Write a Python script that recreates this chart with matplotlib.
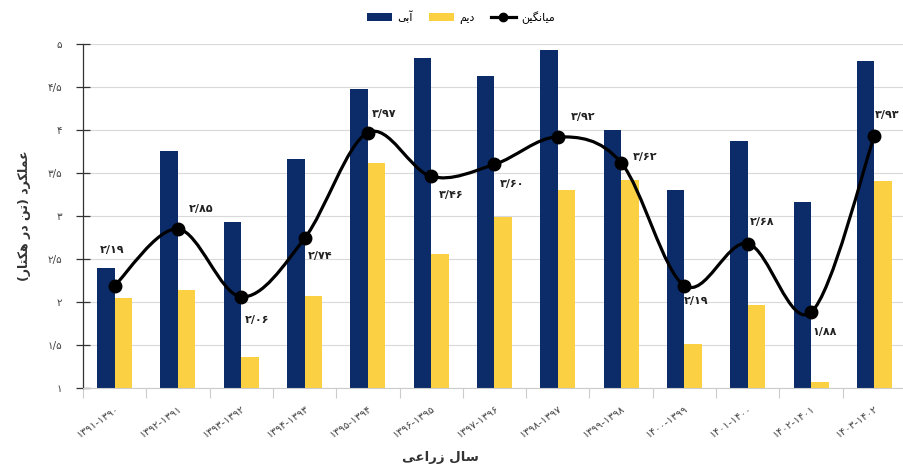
import matplotlib
matplotlib.use('Agg')
import matplotlib.pyplot as plt
import numpy as np
from matplotlib.path import Path
from matplotlib.patches import PathPatch, Patch
from matplotlib.lines import Line2D

# crop years (persian calendar) and yield in tonnes per hectare
years = ['۱۳۹۱-۱۳۹۰', '۱۳۹۲-۱۳۹۱', '۱۳۹۳-۱۳۹۲', '۱۳۹۴-۱۳۹۳', '۱۳۹۵-۱۳۹۴',
         '۱۳۹۶-۱۳۹۵', '۱۳۹۷-۱۳۹۶', '۱۳۹۸-۱۳۹۷', '۱۳۹۹-۱۳۹۸', '۱۴۰۰-۱۳۹۹',
         '۱۴۰۱-۱۴۰۰', '۱۴۰۲-۱۴۰۱', '۱۴۰۳-۱۴۰۲']
irrigated = [2.40, 3.76, 2.93, 3.66, 4.48, 4.84, 4.63, 4.93, 4.00, 3.30, 3.87, 3.16, 4.80]
rainfed = [2.05, 2.14, 1.36, 2.07, 3.62, 2.56, 2.99, 3.30, 3.42, 1.51, 1.96, 1.07, 3.41]
average = [2.19, 2.85, 2.06, 2.74, 3.97, 3.46, 3.60, 3.92, 3.62, 2.19, 2.68, 1.88, 3.93]

# where each average label sits relative to its point (pixels)
label_offsets = [(-3, 36), (23, 20), (16, -23), (16, -18), (16, 19), (20, -19), (18, -20),
                 (25, 20), (24, 6), (12, -15), (14, 22), (14, -20), (13, 21)]

BLUE = '#0c2c69'
YELLOW = '#fcd043'

# contextual forms for the letters used: isolated, final, initial, medial
FORMS = {
    'ا': ('\uFE8D', '\uFE8E', None, None),
    'آ': ('\uFE81', '\uFE82', None, None),
    'د': ('\uFEA9', '\uFEAA', None, None),
    'ر': ('\uFEAD', '\uFEAE', None, None),
    'ز': ('\uFEAF', '\uFEB0', None, None),
    'ب': ('\uFE8F', '\uFE90', '\uFE91', '\uFE92'),
    'ت': ('\uFE95', '\uFE96', '\uFE97', '\uFE98'),
    'ی': ('\uFBFC', '\uFBFD', '\uFBFE', '\uFBFF'),
    'م': ('\uFEE1', '\uFEE2', '\uFEE3', '\uFEE4'),
    'ن': ('\uFEE5', '\uFEE6', '\uFEE7', '\uFEE8'),
    'گ': ('\uFB92', '\uFB93', '\uFB94', '\uFB95'),
    'ع': ('\uFEC9', '\uFECA', '\uFECB', '\uFECC'),
    'ل': ('\uFEDD', '\uFEDE', '\uFEDF', '\uFEE0'),
    'ک': ('\uFB8E', '\uFB8F', '\uFB90', '\uFB91'),
    'ه': ('\uFEE9', '\uFEEA', '\uFEEB', '\uFEEC'),
    'س': ('\uFEB1', '\uFEB2', '\uFEB3', '\uFEB4'),
}


def fa(text):
    """Shape persian letters and lay them out right to left."""
    out = []
    for i, ch in enumerate(text):
        if ch not in FORMS:
            out.append(ch)
            continue
        iso, fin, ini, med = FORMS[ch]
        prev = text[i - 1] if i > 0 else ''
        nxt = text[i + 1] if i < len(text) - 1 else ''
        jp = prev in FORMS and FORMS[prev][2] is not None
        jn = ini is not None and nxt in FORMS
        if jp and jn:
            out.append(med)
        elif jp:
            out.append(fin)
        elif jn:
            out.append(ini)
        else:
            out.append(iso)
    vis = ''.join(reversed(out))
    return vis.translate(str.maketrans('()', ')('))


def fa_num(v, fmt):
    return format(v, fmt).translate(str.maketrans('0123456789.', '۰۱۲۳۴۵۶۷۸۹/'))


plt.rcParams['font.family'] = 'DejaVu Sans'

fig = plt.figure(figsize=(9.04, 4.73), dpi=100)
ax = fig.add_axes([83 / 904, 85 / 473, 823 / 904, 344 / 473])

x = np.arange(len(years))
w = 0.276
ax.bar(x - w / 2, irrigated, w, color=BLUE, zorder=2)
ax.bar(x + w / 2, rainfed, w, color=YELLOW, zorder=2)

# smoothed average line (catmull-rom through the points)
pts = np.column_stack([x, average]).astype(float)
ext = np.vstack([pts[0], pts, pts[-1]])
verts = [tuple(pts[0])]
codes = [Path.MOVETO]
for i in range(len(pts) - 1):
    p0, p1, p2, p3 = ext[i], ext[i + 1], ext[i + 2], ext[i + 3]
    c1 = p1 + (p2 - p0) / 6
    c2 = p2 - (p3 - p1) / 6
    verts += [tuple(c1), tuple(c2), tuple(p2)]
    codes += [Path.CURVE4] * 3
ax.add_patch(PathPatch(Path(verts, codes), facecolor='none', edgecolor='black',
                       lw=2.3, zorder=3, capstyle='round'))
ax.plot(x, average, 'o', color='black', markersize=9, zorder=4)

for xi, v, (dx, dy) in zip(x, average, label_offsets):
    ax.annotate(fa_num(v, '.2f'), (xi, v), xytext=(dx, dy), textcoords='offset pixels',
                ha='center', va='center', fontsize=8, fontweight='bold', color='#222222',
                zorder=5, annotation_clip=False)

ax.set_xlim(-0.5, len(years) - 0.5)
ax.set_ylim(1, 5)
yt = np.arange(1, 5.01, 0.5)
ax.set_yticks(yt)
ax.set_yticklabels([fa_num(v, 'g') for v in yt], fontsize=7.5, color='#444444')
ax.yaxis.grid(True, color='#d9d9d9', lw=0.8, zorder=0)
ax.tick_params(axis='y', direction='inout', length=10, width=0.9, color='#333333', pad=10)

ax.set_xticks(x)
ax.set_xticklabels(years, rotation=35, ha='right', rotation_mode='anchor',
                   fontsize=7.5, color='#444444')
ax.set_xticks(np.arange(-0.5, len(years), 1), minor=True)
ax.tick_params(axis='x', which='major', length=0, pad=11)
ax.tick_params(axis='x', which='minor', length=7, color='#cccccc', width=0.8)

for s in ['top', 'right']:
    ax.spines[s].set_visible(False)
ax.spines['left'].set_color('#333333')
ax.spines['left'].set_linewidth(0.9)
ax.spines['bottom'].set_color('#cccccc')
ax.spines['bottom'].set_linewidth(0.8)

ax.set_ylabel(fa('عملکرد (تن در هکتار)'), fontsize=9, fontweight='bold',
              color='#333333', labelpad=12)
fig.text(0.487, 0.02, fa('سال زراعی'), ha='center', va='bottom', fontsize=9.5,
         fontweight='bold', color='#333333')

handles = [Patch(facecolor=BLUE), Patch(facecolor=YELLOW),
           Line2D([0], [0], color='black', lw=2.3, marker='o', markersize=6)]
fig.legend(handles, [fa('آبی'), fa('دیم'), fa('میانگین')], loc='upper center',
           bbox_to_anchor=(0.51, 1.0), ncol=3, frameon=False, fontsize=8,
           handlelength=2.2, handleheight=0.8, columnspacing=1.5, handletextpad=0.5)

fig.savefig('out.png', dpi=100)
